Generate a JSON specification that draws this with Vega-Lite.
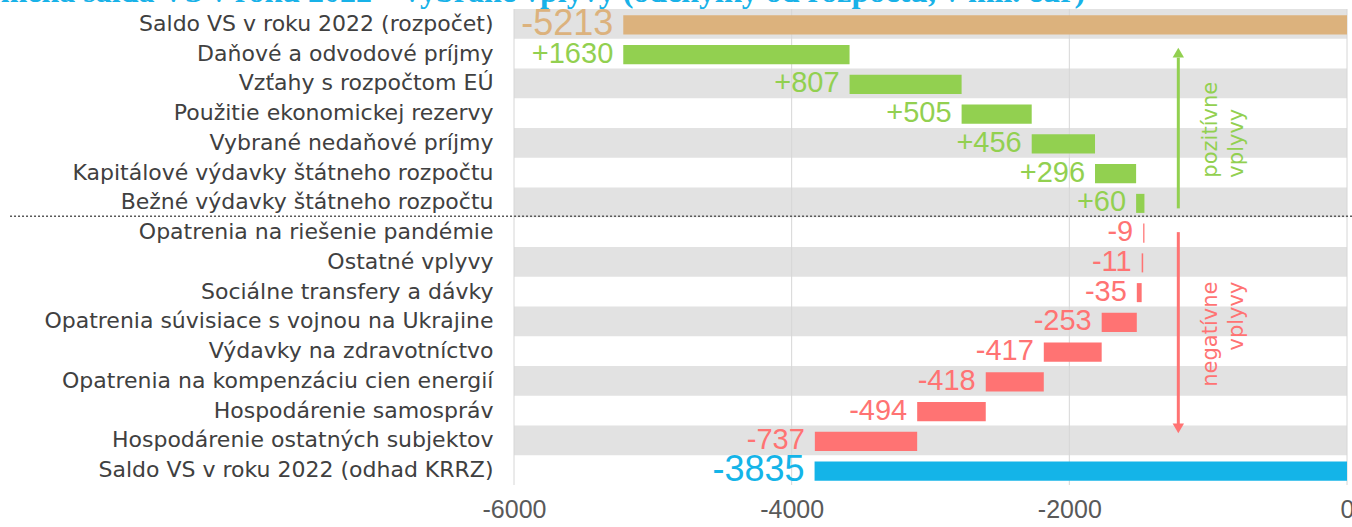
{
  "$schema": "https://vega.github.io/schema/vega-lite/v6.json",
  "width": 833,
  "height": 476,
  "autosize": {"type": "none"},
  "padding": {"left": 514, "top": 9, "right": 5, "bottom": 42},
  "background": "white",
  "config": {"view": {"stroke": null}},
  "title": {
    "text": "Zmena salda VS v roku 2022 – vybrané vplyvy (odchýlky od rozpočtu, v mil. eur)",
    "anchor": "start",
    "frame": "bounds",
    "offset": 0,
    "dx": -30,
    "dy": 3,
    "font": "Liberation Serif",
    "fontWeight": "bold",
    "fontSize": 32,
    "color": "#18B2E8"
  },
  "datasets": {
    "rows": [
      {"cat": "Saldo VS v roku 2022 (rozpočet)", "low": -5213, "high": 0, "label": "-5213", "kind": "start"},
      {"cat": "Daňové a odvodové príjmy", "low": -5213, "high": -3583, "label": "+1630", "kind": "pos"},
      {"cat": "Vzťahy s rozpočtom EÚ", "low": -3583, "high": -2776, "label": "+807", "kind": "pos"},
      {"cat": "Použitie ekonomickej rezervy", "low": -2776, "high": -2271, "label": "+505", "kind": "pos"},
      {"cat": "Vybrané nedaňové príjmy", "low": -2271, "high": -1815, "label": "+456", "kind": "pos"},
      {"cat": "Kapitálové výdavky štátneho rozpočtu", "low": -1815, "high": -1519, "label": "+296", "kind": "pos"},
      {"cat": "Bežné výdavky štátneho rozpočtu", "low": -1519, "high": -1459, "label": "+60", "kind": "pos"},
      {"cat": "Opatrenia na riešenie pandémie", "low": -1468, "high": -1459, "label": "-9", "kind": "neg"},
      {"cat": "Ostatné vplyvy", "low": -1479, "high": -1468, "label": "-11", "kind": "neg"},
      {"cat": "Sociálne transfery a dávky", "low": -1514, "high": -1479, "label": "-35", "kind": "neg"},
      {"cat": "Opatrenia súvisiace s vojnou na Ukrajine", "low": -1767, "high": -1514, "label": "-253", "kind": "neg"},
      {"cat": "Výdavky na zdravotníctvo", "low": -2184, "high": -1767, "label": "-417", "kind": "neg"},
      {"cat": "Opatrenia na kompenzáciu cien energií", "low": -2602, "high": -2184, "label": "-418", "kind": "neg"},
      {"cat": "Hospodárenie samospráv", "low": -3096, "high": -2602, "label": "-494", "kind": "neg"},
      {"cat": "Hospodárenie ostatných subjektov", "low": -3833, "high": -3096, "label": "-737", "kind": "neg"},
      {"cat": "Saldo VS v roku 2022 (odhad KRRZ)", "low": -3835, "high": 0, "label": "-3835", "kind": "end"}
    ]
  },
  "encoding": {
    "y": {
      "field": "cat",
      "type": "nominal",
      "title": null,
      "scale": {
        "domain": [
          "Saldo VS v roku 2022 (rozpočet)",
          "Daňové a odvodové príjmy",
          "Vzťahy s rozpočtom EÚ",
          "Použitie ekonomickej rezervy",
          "Vybrané nedaňové príjmy",
          "Kapitálové výdavky štátneho rozpočtu",
          "Bežné výdavky štátneho rozpočtu",
          "Opatrenia na riešenie pandémie",
          "Ostatné vplyvy",
          "Sociálne transfery a dávky",
          "Opatrenia súvisiace s vojnou na Ukrajine",
          "Výdavky na zdravotníctvo",
          "Opatrenia na kompenzáciu cien energií",
          "Hospodárenie samospráv",
          "Hospodárenie ostatných subjektov",
          "Saldo VS v roku 2022 (odhad KRRZ)"
        ],
        "paddingInner": 0,
        "paddingOuter": 0
      },
      "axis": {
        "domain": false,
        "ticks": false,
        "labelFont": "DejaVu Sans",
        "labelFontSize": 22,
        "labelColor": "#404040",
        "labelPadding": 21,
        "labelLimit": 600
      }
    }
  },
  "layer": [
    {
      "data": {"name": "rows"},
      "transform": [
        {"window": [{"op": "row_number", "as": "rn"}]},
        {"filter": "datum.rn % 2 == 1"}
      ],
      "mark": {"type": "rect", "color": "#E2E2E2"},
      "encoding": {
        "x": {
          "datum": -6000,
          "type": "quantitative",
          "scale": {"domain": [-6000, 0], "nice": false, "zero": false},
          "axis": {
            "values": [-6000, -4000, -2000, 0],
            "format": "d",
            "title": null,
            "domain": false,
            "ticks": false,
            "grid": false,
            "labelFlush": false,
            "labelFont": "Liberation Sans",
            "labelFontSize": 25,
            "labelColor": "#595959",
            "labelPadding": 12,
            "labelExpr": "replace(datum.label, '−', '-')"
          }
        },
        "x2": {"datum": 0}
      }
    },
    {
      "data": {"values": [{"g": -6000}, {"g": -4000}, {"g": -2000}, {"g": 0}]},
      "mark": {"type": "rule", "color": "#D6D6D6", "strokeWidth": 1},
      "encoding": {"x": {"field": "g", "type": "quantitative"}, "y": null}
    },
    {
      "data": {"name": "rows"},
      "mark": {"type": "bar", "height": {"band": 0.64}, "yOffset": 1},
      "encoding": {
        "x": {"field": "low", "type": "quantitative"},
        "x2": {"field": "high"},
        "color": {
          "field": "kind",
          "type": "nominal",
          "legend": null,
          "scale": {
            "domain": ["start", "pos", "neg", "end"],
            "range": ["#DCB27D", "#92D050", "#FF7373", "#14B4E8"]
          }
        }
      }
    },
    {
      "data": {"name": "rows"},
      "mark": {"type": "text", "align": "right", "baseline": "middle", "dx": -10, "font": "Liberation Sans"},
      "encoding": {
        "x": {"field": "low", "type": "quantitative"},
        "text": {"field": "label"},
        "color": {"field": "kind", "type": "nominal", "legend": null},
        "size": {
          "condition": {"test": "datum.kind == 'start' || datum.kind == 'end'", "value": 36},
          "value": 29
        }
      }
    },
    {
      "data": {"values": [{"a": -9630, "b": 0, "cat": "Opatrenia na riešenie pandémie"}]},
      "mark": {"type": "rule", "color": "#595959", "strokeWidth": 1.5, "strokeDash": [2, 2], "yOffset": -1, "x2Offset": 6},
      "encoding": {
        "x": {"field": "a", "type": "quantitative"},
        "x2": {"field": "b"},
        "y": {"field": "cat", "type": "nominal", "bandPosition": 0}
      }
    },
    {
      "data": {"values": [{"ax": -1215, "from": "Daňové a odvodové príjmy", "to": "Bežné výdavky štátneho rozpočtu"}]},
      "mark": {"type": "rule", "color": "#92D050", "strokeWidth": 3, "yOffset": 4, "y2Offset": 6},
      "encoding": {
        "x": {"field": "ax", "type": "quantitative"},
        "y": {"field": "from", "type": "nominal"},
        "y2": {"field": "to"}
      }
    },
    {
      "data": {"values": [{"ax": -1215, "at": "Daňové a odvodové príjmy"}]},
      "mark": {"type": "point", "shape": "triangle-up", "filled": true, "color": "#92D050", "opacity": 1, "size": 130, "yOffset": -1},
      "encoding": {
        "x": {"field": "ax", "type": "quantitative"},
        "y": {"field": "at", "type": "nominal"}
      }
    },
    {
      "data": {"values": [{"ax": -1215, "from": "Opatrenia na riešenie pandémie", "to": "Hospodárenie ostatných subjektov"}]},
      "mark": {"type": "rule", "color": "#FF7373", "strokeWidth": 3, "y2Offset": -14},
      "encoding": {
        "x": {"field": "ax", "type": "quantitative"},
        "y": {"field": "from", "type": "nominal"},
        "y2": {"field": "to"}
      }
    },
    {
      "data": {"values": [{"ax": -1215, "at": "Hospodárenie ostatných subjektov"}]},
      "mark": {"type": "point", "shape": "triangle-down", "filled": true, "color": "#FF7373", "opacity": 1, "size": 130, "yOffset": -12},
      "encoding": {
        "x": {"field": "ax", "type": "quantitative"},
        "y": {"field": "at", "type": "nominal"}
      }
    },
    {
      "data": {"values": [{"tx": -1059, "at": "Kapitálové výdavky štátneho rozpočtu", "t": ["pozitívne", "vplyvy"]}]},
      "mark": {"type": "text", "angle": 270, "align": "left", "baseline": "top", "font": "DejaVu Sans", "fontSize": 21, "lineHeight": 26, "color": "#92D050", "yOffset": 5},
      "encoding": {
        "x": {"field": "tx", "type": "quantitative"},
        "y": {"field": "at", "type": "nominal"},
        "text": {"field": "t"}
      }
    },
    {
      "data": {"values": [{"tx": -1059, "at": "Sociálne transfery a dávky", "t": ["negatívne", "vplyvy"]}]},
      "mark": {"type": "text", "angle": 270, "align": "right", "baseline": "top", "font": "DejaVu Sans", "fontSize": 21, "lineHeight": 26, "color": "#FF7373", "yOffset": -10},
      "encoding": {
        "x": {"field": "tx", "type": "quantitative"},
        "y": {"field": "at", "type": "nominal"},
        "text": {"field": "t"}
      }
    }
  ]
}
